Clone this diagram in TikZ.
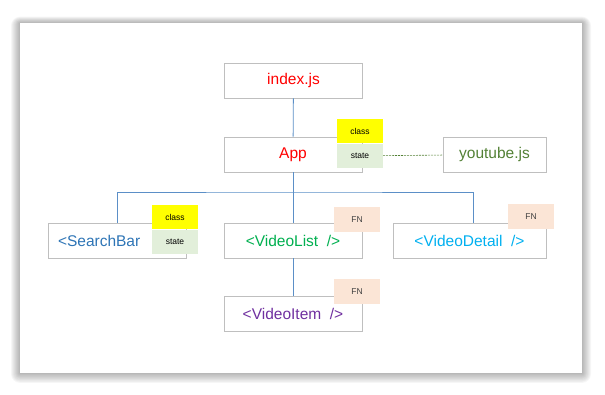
\documentclass[tikz,border=0pt]{standalone}
\usepackage{fontspec}
\setmainfont{Liberation Sans}
\usetikzlibrary{positioning}
\definecolor{frame}{HTML}{BFBFBF}
\definecolor{wire}{HTML}{5B8FC7}
\definecolor{tagyellow}{HTML}{FFFF00}
\definecolor{taggreen}{HTML}{E2EFDA}
\definecolor{tagpeach}{HTML}{FBE5D6}
\definecolor{jsred}{HTML}{FF0000}
\definecolor{jsolive}{HTML}{538135}
\definecolor{jsblue}{HTML}{2E75B6}
\definecolor{jsgreen}{HTML}{00B050}
\definecolor{jscyan}{HTML}{00B0F0}
\definecolor{jspurple}{HTML}{7030A0}
\tikzset{
  comp/.style={rectangle, draw=frame, fill=white, line width=0.9pt, minimum width=138pt,
               minimum height=35pt, inner sep=0pt, font=\fontsize{15.5}{17}\selectfont},
  tag/.style={rectangle, minimum width=46pt, minimum height=24.5pt, inner sep=0pt,
              font=\fontsize{8.5}{10}\selectfont},
  classtag/.style={tag, fill=tagyellow},
  statetag/.style={tag, fill=taggreen},
  fntag/.style={tag, fill=tagpeach, text=black!75},
  wire/.style={draw=wire, line width=0.8pt},
  link/.style={draw=jsolive, dashed, dash pattern=on 2pt off 1pt, line width=0.6pt}
}

\begin{document}
\begin{tikzpicture}[x=1pt, y=-1pt]
  \useasboundingbox (0,0) rectangle (605,395);
  % page with soft shadow
  \foreach \s in {1,...,9}
    \fill[black, opacity=0.035, rounded corners=\s pt] (20-\s,23-\s*0.7) rectangle (582+\s,373+\s*1.1);
  \fill[white] (20,23) rectangle (582,373);

  \node[comp, text=jsred] (index) at (293.5,80.5) {index.js};
  \node[comp, text=jsred] (app) at (293,154.5) {App};
  \node[comp, minimum width=103pt, text=jsolive] (yt) at (494.5,154.5) {youtube.js};
  \node[comp, text=jsblue, text width=118pt, align=left] (search) at (117,240.5) {<SearchBar};
  \node[comp, text=jsgreen] (vlist) at (293,240.5) {<VideoList \ />};
  \node[comp, minimum width=153pt, text=jscyan] (vdetail) at (469.5,240.5) {<VideoDetail \ />};
  \node[comp, text=jspurple] (vitem) at (293,313.5) {<VideoItem \ />};

  % tags
  \node[classtag] (appclass) at (360,131) {class};
  \node[statetag, below=0pt of appclass] (appstate) {state};
  \node[classtag] (searchclass) at (175,217) {class};
  \node[statetag, below=0pt of searchclass] (searchstate) {state};
  \node[fntag] (vlistfn) at (357,219.5) {FN};
  \node[fntag] (vdetailfn) at (531,216.5) {FN};
  \node[fntag] (vitemfn) at (357,291.5) {FN};

  % connectors
  \coordinate (bus) at (293,192);
  \draw[wire] (index) -- (app);
  \draw[wire] (app) -- (bus);
  \draw[wire] (search.north) |- (bus) -| ([xshift=3.5pt]vdetail.north);
  \draw[wire] (bus) -- (vlist);
  \draw[wire] (vlist) -- (vitem);
  \draw[link] (appstate) -- (yt);
\end{tikzpicture}
\end{document}
